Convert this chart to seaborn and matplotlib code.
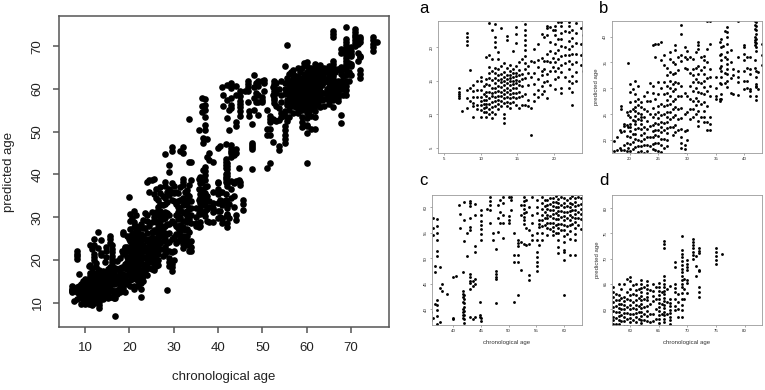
import matplotlib
matplotlib.use("Agg")
import matplotlib.pyplot as plt
import pandas as pd
import seaborn as sns

# ---- data: chronological age -> predicted ages ----
kids = {
    7.1: [13.3, 13.0, 12.7, 12.4, 14.0],
    7.4: [10.5],
    8.1: [22.1, 21.5, 20.9, 20.3, 13.6, 12.5, 10.9],
    8.6: [16.6, 14.0, 12.0],
    9.0: [14.4, 13.5, 12.6, 11.7, 11.2, 9.6],
    9.5: [15.0, 13.6, 12.6, 11.4, 10.8],
    10.0: [15.6, 14.9, 13.6, 12.6, 12.0, 11.4, 10.7, 9.6],
    10.4: [14.2, 13.0, 12.2, 11.5, 10.9, 10.4],
    10.8: [18.6, 15.2, 14.5, 13.4, 12.8, 12.1, 11.6, 11.1, 10.3, 9.6],
    11.1: [23.6, 18.8, 17.0, 16.2, 15.4, 14.4, 13.3, 12.4, 11.6, 10.8, 10.0],
    11.5: [22.5, 18.2, 16.5, 15.1, 14.0, 13.2, 12.7, 11.9, 11.1, 10.4, 9.5],
    12.0: [24.8, 23.5, 21.5, 20.7, 20.0, 16.9, 16.1, 15.4, 14.6, 13.9, 13.3, 12.6, 12.0, 11.2, 10.0],
    12.4: [19.3, 18.3, 16.7, 15.8, 15.1, 14.2, 13.5, 12.8, 12.2, 11.5, 10.8],
    12.8: [26.6, 22.9, 17.2, 16.0, 15.3, 14.8, 14.1, 13.3, 12.7, 12.0, 11.3],
    13.2: [17.6, 16.3, 15.6, 14.9, 14.4, 13.7, 13.0, 12.4, 11.7, 10.1, 9.5, 8.7],
    13.6: [24.7, 21.6, 21.1, 16.9, 15.8, 15.2, 14.7, 14.0, 13.3, 12.6, 11.9, 11.2],
    14.0: [17.3, 16.4, 15.9, 15.4, 14.9, 14.3, 13.6, 13.0, 12.4, 11.7, 10.9],
    14.4: [19.5, 16.8, 16.1, 15.5, 15.0, 14.5, 13.9, 13.2, 12.6, 11.9],
    14.8: [23.0, 22.0, 20.6, 17.2, 16.2, 15.7, 15.1, 14.6, 13.9, 13.2, 12.4, 11.4],
    15.2: [17.8, 16.6, 15.8, 15.0, 14.3, 13.4, 12.6, 11.0],
    15.6: [25.5, 24.8, 24.0, 18.3, 16.0, 15.2, 14.2, 12.8, 11.4],
    16.0: [23.5, 22.5, 21.8, 21.0, 20.3, 19.6, 18.7, 17.6, 16.8, 15.4, 13.0, 11.4],
    16.5: [17.2, 16.1, 14.4, 12.2, 11.2],
    16.8: [18.0, 15.5, 11.0, 6.9],
}

teens = {
    17.3: [19.8, 17.8, 16.2, 14.5, 13.0, 12.0],
    17.8: [20.5, 18.1, 17.0, 15.2, 13.6, 12.6],
    18.3: [22.0, 18.4, 16.5, 15.8, 14.2, 13.0],
    18.6: [26.6, 26.0, 21.5, 18.0, 16.8, 14.8, 13.5],
    19.0: [23.1, 22.8, 21.8, 19.0, 18.0, 16.0, 15.0, 12.5],
    19.5: [25.5, 23.0, 20.8, 19.5, 17.8, 16.5, 14.3],
    19.8: [34.8, 24.8, 22.5, 18.4, 17.0],
    20.1: [30.8, 29.2, 27.3, 25.7, 24.4, 23.1, 22.5, 21.8, 20.5, 19.2, 17.8, 16.5, 15.2, 13.8],
    20.6: [29.9, 26.0, 23.8, 21.2, 19.6, 18.2, 16.9, 15.5],
    21.0: [31.5, 28.9, 27.6, 26.3, 25.7, 24.7, 23.7, 23.1, 22.1, 21.2, 20.2, 18.7, 17.4, 16.3, 14.0, 13.2],
    21.5: [30.5, 28.0, 26.8, 25.2, 24.0, 22.4, 20.0, 18.9, 17.6, 15.5],
    22.0: [27.3, 26.4, 25.1, 24.4, 23.8, 23.1, 22.2, 20.9, 19.8, 18.9, 17.9, 16.7, 15.0, 14.0],
    22.5: [28.5, 26.0, 24.4, 22.6, 21.4, 20.2, 19.0, 17.5, 15.7, 14.7, 13.3, 11.4],
    23.0: [29.3, 27.5, 25.6, 23.6, 22.1, 20.6, 19.0, 17.8, 16.3, 15.0],
    23.6: [31.0, 27.5, 25.0, 22.8, 20.5, 18.8, 17.3],
    24.0: [38.3, 30.5, 29.0, 26.2, 24.5, 23.0, 21.8, 20.6, 19.2, 18.2, 16.5],
    24.5: [38.6, 36.0, 28.0, 25.0, 23.2, 22.0, 21.0, 19.5, 18.0],
    25.0: [38.6, 31.2, 28.9, 26.5, 25.4, 24.2, 23.1, 22.0, 20.8, 19.4, 17.8],
    25.5: [38.9, 35.4, 30.0, 27.0, 24.8, 23.5, 22.5, 21.5, 20.3, 19.0, 17.6],
    26.0: [36.5, 34.5, 31.2, 28.9, 26.6, 25.0, 23.2, 21.9, 20.2, 18.5],
    26.5: [34.0, 32.5, 30.5, 29.0, 27.8, 26.8, 25.5, 24.5, 23.5, 22.4, 21.3, 20.0, 18.8],
    27.0: [37.0, 35.6, 33.2, 31.5, 30.0, 28.5, 27.0, 25.5, 24.0, 22.5],
    27.5: [35.0, 32.8, 30.8, 29.5, 27.5, 26.0, 24.5, 22.5, 21.0],
    28.0: [44.7, 38.3, 37.4, 34.6, 33.0, 31.2, 29.8, 28.0, 26.4, 24.8, 23.0, 21.5],
    28.5: [36.0, 33.5, 31.0, 28.5, 26.0, 24.0, 22.0, 13.0],
    29.0: [42.3, 40.5, 36.5, 35.2, 30.5, 28.5, 26.2, 24.3, 22.2, 20.5, 19.5, 18.5],
    29.6: [46.5, 45.4, 38.0, 36.0, 34.0, 29.0, 25.0, 21.8, 19.0, 18.3, 17.3],
    30.0: [37.2, 35.7, 33.8, 28.6, 25.4, 22.0, 20.0],
}

adults = {
    30.5: [36.0, 33.0, 30.5, 28.0, 26.0, 24.0],
    31.0: [35.7, 33.7, 32.5, 31.2, 29.5, 27.5, 26.0, 24.5],
    31.5: [45.5, 37.0, 34.0, 31.8, 30.0, 28.2, 26.7, 25.0],
    32.0: [46.5, 45.0, 38.9, 38.3, 37.6, 34.4, 32.8, 31.2, 29.2, 27.6, 25.7, 23.7, 22.8],
    32.5: [36.0, 33.5, 31.0, 29.0, 27.0, 24.5],
    33.0: [36.3, 35.4, 34.1, 32.8, 31.5, 30.2, 28.9, 27.3, 25.7, 24.4, 23.4],
    33.5: [53.0, 43.0, 37.5, 35.0, 32.0, 29.5, 26.5, 23.5, 22.0],
    34.0: [43.0, 38.6, 33.7, 32.1, 30.5, 28.6, 24.4, 23.1, 22.0],
    35.0: [32.1, 30.0, 28.6, 27.9],
    35.7: [50.5, 39.0, 36.5, 34.0, 31.0, 28.0, 27.6],
    36.0: [39.5, 37.9, 36.6, 35.4, 34.4, 33.4, 32.1, 30.8, 28.9, 27.9],
    36.3: [57.8, 56.0, 54.6, 38.2],
    36.7: [48.5, 47.3, 41.0, 36.0, 33.0, 31.0],
    37.0: [57.7, 56.3, 55.0, 53.5, 51.5, 50.5, 41.8, 40.8, 39.9, 38.6, 37.0, 35.7, 34.7, 33.7, 32.8, 31.5, 30.2],
    37.6: [48.2, 44.2, 37.4, 35.0, 32.0, 29.0],
    38.0: [45.0, 43.5, 33.7, 32.5, 28.9],
    38.8: [43.0, 36.0, 33.4, 32.1, 31.2, 28.8],
    40.0: [46.3, 38.3, 38.0, 36.6, 35.4, 33.4, 31.5, 29.9],
    40.5: [46.6, 36.0, 34.0, 31.5, 30.0],
    41.0: [60.5, 36.0, 33.7, 32.8, 29.9, 29.5, 28.6],
    41.2: [58.7, 56.0],
    41.8: [47.2, 43.6, 43.0, 42.3, 41.5, 40.0, 39.4, 38.9, 38.3, 35.5, 34.0],
    42.0: [61.0, 57.4, 53.3, 42.8, 42.0, 41.2, 40.4, 39.6, 38.8, 38.0, 37.2, 33.4, 32.1, 30.8, 30.5, 30.2, 28.6, 27.8],
    42.4: [55.0, 50.5, 33.1, 29.9],
    43.0: [61.3, 60.8, 60.3, 57.8, 56.2, 55.6, 47.0, 46.3, 45.6, 45.1, 44.0, 38.5, 36.5, 34.5],
    43.5: [45.5, 44.5, 38.0, 35.0, 32.5],
    44.0: [60.6, 58.5, 52.3, 51.3, 46.0, 45.0, 38.5, 30.5, 29.4],
    44.8: [41.5, 38.8, 38.5],
    45.0: [59.5, 58.4, 57.3, 56.6, 55.8, 54.8, 53.6, 38.2, 37.6],
    45.6: [34.0, 33.0, 31.7],
    46.0: [59.6],
}

middle = {
    46.7: [62.0, 61.2, 60.5, 59.5, 56.9],
    47.1: [54.9, 53.6],
    47.7: [51.8, 47.4, 46.9, 46.4, 45.9, 41.3],
    48.1: [63.3, 60.5, 57.8, 55.2],
    48.5: [61.5, 59.0, 57.0],
    49.0: [62.0, 60.8, 58.5, 56.9, 53.9],
    50.0: [62.0, 58.2, 57.5, 56.9],
    50.4: [62.1, 61.4, 59.5],
    51.0: [55.0, 50.7, 49.2, 41.5],
    51.7: [53.6, 53.0, 52.3, 50.6, 49.3, 42.8],
    52.3: [60.5, 58.5, 53.1, 47.7],
    52.7: [62.0, 61.2, 60.4, 59.6, 58.8, 58.0, 57.4, 56.8, 52.7],
    53.2: [61.5, 59.0, 56.0, 52.5],
    53.7: [60.0, 55.5, 52.8, 46.7, 45.7],
    54.2: [62.0, 58.5, 57.0, 54.5, 53.5],
    55.1: [65.4, 61.5, 60.0, 58.8, 54.9, 53.6, 51.3, 50.3, 49.3, 48.4, 47.4],
    55.5: [70.2, 62.5, 57.5, 56.8, 56.2, 52.6],
}

older = {
    56.0: [63.5, 62.0, 60.8, 59.6, 58.5, 57.4, 56.3, 55.0, 53.5],
    56.5: [64.0, 61.5, 60.2, 59.0, 57.8, 56.5],
    57.0: [64.5, 63.5, 62.5, 61.5, 60.5, 59.6, 58.5, 57.8, 57.0, 56.0, 54.5],
    57.5: [63.0, 61.8, 60.6, 59.4, 58.2, 57.0, 55.8],
    58.0: [65.0, 62.8, 61.8, 61.0, 60.2, 59.4, 58.6, 57.8, 57.0, 56.2, 55.4, 54.5],
    58.5: [64.0, 62.3, 61.1, 60.0, 58.9, 57.7, 56.5, 55.0],
    59.0: [65.0, 62.5, 61.6, 60.8, 60.0, 59.2, 58.4, 57.6, 56.8, 56.0, 55.0, 53.5, 52.2, 51.0],
    59.5: [66.0, 63.5, 62.0, 60.5, 59.2, 58.0, 56.8, 55.5],
    60.0: [66.3, 65.5, 64.0, 62.8, 61.8, 60.9, 60.0, 59.1, 58.3, 57.5, 56.6, 55.6, 54.4, 53.2, 51.6, 51.3, 49.7, 42.7],
    60.5: [64.8, 63.0, 61.5, 60.2, 59.0, 57.8, 56.4, 54.8],
    61.0: [65.0, 63.8, 62.8, 61.8, 60.9, 60.0, 59.2, 58.4, 57.5, 56.5, 55.4, 53.8, 50.7],
    61.5: [64.0, 62.3, 60.7, 59.4, 58.1, 56.8],
    62.0: [65.8, 65.0, 64.2, 63.4, 62.6, 61.8, 61.0, 60.2, 59.4, 58.6, 57.8, 57.2, 56.0, 54.8, 53.5, 50.7],
    62.5: [64.5, 62.0, 60.5, 59.0, 57.8, 56.5],
    63.0: [65.6, 64.8, 64.0, 63.2, 62.5, 61.8, 60.6, 59.6, 58.6, 57.6, 55.8],
    63.5: [63.8, 61.0, 59.0, 57.5],
    64.0: [65.0, 63.7, 62.6, 61.6, 59.0, 57.7, 56.0],
}

seniors = {
    64.5: [64.5, 62.0, 60.0, 58.0],
    65.0: [65.3, 64.5, 63.7, 62.9, 62.1, 61.3, 60.5, 59.7, 58.9, 58.1, 57.3, 56.5],
    65.5: [63.5, 61.0, 59.0],
    66.0: [73.6, 73.0, 72.1, 66.5, 65.8, 65.1, 64.4, 63.7, 63.0, 62.3, 61.6, 60.9, 60.2, 59.5, 58.8, 58.1, 57.4, 55.8],
    66.5: [64.0, 61.5, 59.0],
    67.0: [64.6, 62.0, 61.3, 60.6, 59.9, 59.2, 58.5, 57.8, 57.1],
    67.8: [69.4, 68.4, 65.1, 64.3, 63.5, 62.0, 60.7, 59.9, 54.0, 52.0],
    68.3: [63.0, 61.5, 60.0, 58.5],
    69.0: [74.5, 71.7, 71.0, 70.3, 69.5, 68.8, 68.0, 67.3, 66.5, 65.8, 65.1, 64.4, 63.2, 62.0, 60.8, 59.8, 58.5],
    69.5: [66.0, 64.0, 62.0],
    70.0: [69.8, 69.0, 68.3, 67.8, 65.8, 65.3, 63.2],
    71.0: [74.0, 73.4, 72.7, 72.1, 71.4, 70.7, 70.0],
    71.5: [70.5, 68.5, 66.5],
    72.0: [72.1, 71.6, 71.1, 67.8, 67.5, 64.4, 63.5, 62.5],
    75.0: [72.1, 71.4, 70.6, 69.8, 69.0],
    76.0: [71.0],
}

main_ticks = [10, 20, 30, 40, 50, 60, 70]
panel_letters = ["a", "b", "c", "d"]
panel_xticks = [[5, 10, 15, 20], [20, 25, 30, 35, 40], [40, 45, 50, 55, 60], [60, 65, 70, 75, 80]]
panel_yticks = [[5, 10, 15, 20], [20, 25, 30, 35, 40], [40, 45, 50, 55, 60], [60, 65, 70, 75, 80]]

# ---- build the table ----
xs, ys = [], []
for group in (kids, teens, adults, middle, older, seniors):
    for age, preds in group.items():
        xs.extend([age] * len(preds))
        ys.extend(preds)
df = pd.DataFrame({"chronological age": xs, "predicted age": ys})

sns.set_theme(style="white")
plt.rcParams["font.family"] = ["Liberation Sans", "DejaVu Sans"]

W, H = 765, 390
fig = plt.figure(figsize=(W / 100, H / 100), dpi=100)


def px_axes(l, t, r, b):
    return fig.add_axes([l / W, 1 - b / H, (r - l) / W, (b - t) / H])


def style_axes(ax, lw, col, tlen, tsize, pad):
    for sp in ax.spines.values():
        sp.set_visible(True)
        sp.set_color(col)
        sp.set_linewidth(lw)
    ax.tick_params(direction="out", length=tlen, width=lw, colors="#222222",
                   labelsize=tsize, pad=pad, bottom=True, left=True)
    ax.tick_params(axis="both", color=col)
    for lab in ax.get_yticklabels():
        lab.set_rotation(90)
        lab.set_va("center")
        lab.set_ha("right")


# main panel
ax = px_axes(59, 16, 389, 327)
sns.scatterplot(data=df, x="chronological age", y="predicted age", ax=ax,
                color="black", s=23, linewidth=0, legend=False)
ax.set_xlim(4.1, 78.6)
ax.set_ylim(4.3, 77.1)
ax.set_xticks(main_ticks)
ax.set_yticks(main_ticks)
style_axes(ax, 1.1, "#555555", 4, 9.5, 7)
ax.set_xlabel("chronological age", fontsize=9.5, labelpad=12, color="#222222")
ax.set_ylabel("predicted age", fontsize=9.5, labelpad=12, color="#222222")

# zoomed panels
boxes = [(438, 21, 582, 153), (611.7, 21, 761.7, 153),
         (432.3, 195, 581.7, 325), (612.3, 195, 761.7, 325)]
limits = [((4.2, 23.8), (4.25, 23.9)), ((16.9, 43.0), (17.5, 43.0)),
          ((36.2, 63.2), (36.9, 62.4)), ((56.9, 83.0), (56.9, 82.6))]
letter_pos = [(419, 13), (599, 13), (419, 185), (599, 185)]

for i, (box, lim) in enumerate(zip(boxes, limits)):
    a = px_axes(*box)
    sns.scatterplot(data=df, x="chronological age", y="predicted age", ax=a,
                    color="black", s=4.2, linewidth=0, legend=False)
    a.set_xlim(*lim[0])
    a.set_ylim(*lim[1])
    a.set_xticks(panel_xticks[i])
    a.set_yticks(panel_yticks[i])
    style_axes(a, 0.6, "#9a9a9a", 1.6, 3.2, 1.5)
    if i >= 2:
        a.set_xlabel("chronological age", fontsize=4.3, labelpad=5, color="#333333")
    else:
        a.set_xlabel("")
    if i in (1, 3):
        a.set_ylabel("predicted age", fontsize=4.3, labelpad=3, color="#333333")
    else:
        a.set_ylabel("")
    fig.text(letter_pos[i][0] / W, 1 - letter_pos[i][1] / H, panel_letters[i],
             fontsize=12, ha="left", va="baseline", color="black")

fig.savefig("out.png", dpi=100)
